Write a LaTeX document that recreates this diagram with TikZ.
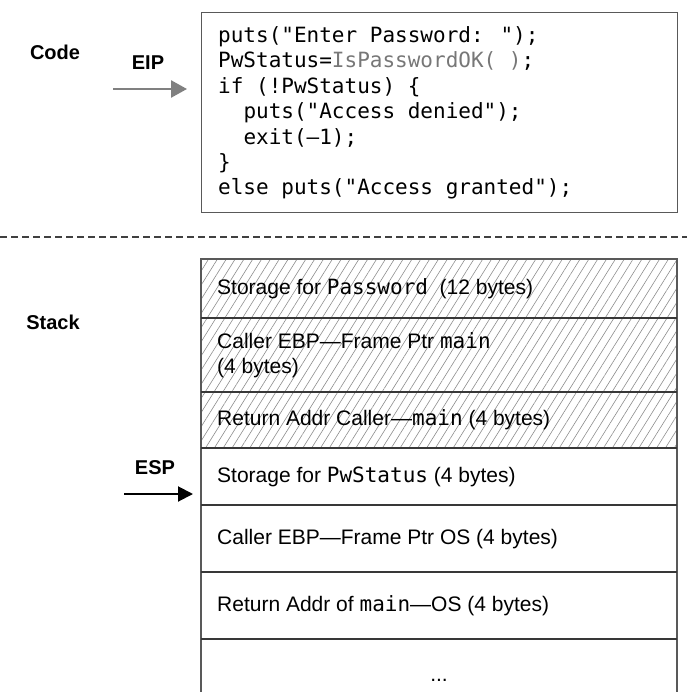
\documentclass[tikz,border=0pt]{standalone}
\usepackage{fontspec}
\setmainfont{Liberation Sans}
\newfontfamily\codefont{DejaVu Sans Mono}
\usetikzlibrary{patterns.meta,arrows.meta}
\newcommand\cw[1]{{\codefont #1}}
\definecolor{fngray}{HTML}{777777}
\begin{document}
\begin{tikzpicture}[x=1pt,y=-1pt,
  codeline/.style={anchor=base west, inner sep=0pt, font=\codefont\fontsize{21}{24}\selectfont},
  rowtext/.style={anchor=west, inner sep=0pt, align=left, font=\fontsize{21}{25}\selectfont},
  headlbl/.style={inner sep=0pt, font=\bfseries\fontsize{20}{24}\selectfont},
  frame/.style={draw=black!65, line width=1.3pt},
  sep/.style={draw=black!78, line width=1.6pt},
  hatch/.style={pattern={Lines[angle=58,distance=7.5pt,line width=0.6pt]}, pattern color=black!45},
]
\useasboundingbox (0,0) rectangle (687,692);

% ---- code part ----
\node[frame, anchor=north west, minimum width=476pt, minimum height=200pt, inner sep=0pt] (codebox) at (201,12) {};
\node[codeline] (l1) at (218,42.6) {puts("Enter Password: ");};
\node[codeline] (l2) at (218,68) {PwStatus=\textcolor{fngray}{IsPasswordOK( )};};
\node[codeline] (l3) at (218,93.4) {if (!PwStatus) \{};
\node[codeline] (l4) at (243.3,118.8) {puts("Access denied");};
\node[codeline] (l5) at (243.3,144.2) {exit(–1);};
\node[codeline] (l6) at (218,169.6) {\}};
\node[codeline] (l7) at (218,195) {else puts("Access granted");};

\node[headlbl] (code) at (55,52) {Code};
\node[headlbl] (eip) at (148,63) {EIP};
\coordinate (eipS) at (113,89);
\coordinate (eipE) at (187,89);
\draw[draw=black!50, line width=2.6pt, -{Triangle[length=16pt,width=17pt]}] (eipS) -- (eipE);

% ---- separator ----
\coordinate (dl) at (0,237);
\coordinate (dr) at (687,237);
\draw[draw=black!75, line width=1.5pt, dash pattern=on 7pt off 4pt] (dl) -- (dr);

% ---- stack ----
\fill[hatch] (201,259) rectangle (677,448);
\draw[frame] (201,692) -- (201,259) -- (677,259) -- (677,692);
\foreach \yy in {318,392,448,505,572,639} {
  \draw[sep] (201,\yy) -- (677,\yy);
}
\node[rowtext] (r1) at (217,288.5) {Storage for \cw{Password} \ (12 bytes)};
\node[rowtext] (r2) at (217,355) {Caller EBP—Frame Ptr \cw{main}\\(4 bytes)};
\node[rowtext] (r3) at (217,420) {Return Addr Caller—\cw{main} (4 bytes)};
\node[rowtext] (r4) at (217,476.5) {Storage for \cw{PwStatus} (4 bytes)};
\node[rowtext] (r5) at (217,539) {Caller EBP—Frame Ptr OS (4 bytes)};
\node[rowtext] (r6) at (217,605.5) {Return Addr of \cw{main}—OS (4 bytes)};
\node[anchor=base, inner sep=0pt, font=\fontsize{21}{25}\selectfont] (r7) at (439,681) {...};

\node[headlbl] (stack) at (53,322) {Stack};
\node[headlbl] (esp) at (155,468) {ESP};
\coordinate (espS) at (124,494);
\coordinate (espE) at (193,494);
\draw[draw=black, line width=2pt, -{Triangle[length=15pt,width=15pt]}] (espS) -- (espE);
\end{tikzpicture}
\end{document}
